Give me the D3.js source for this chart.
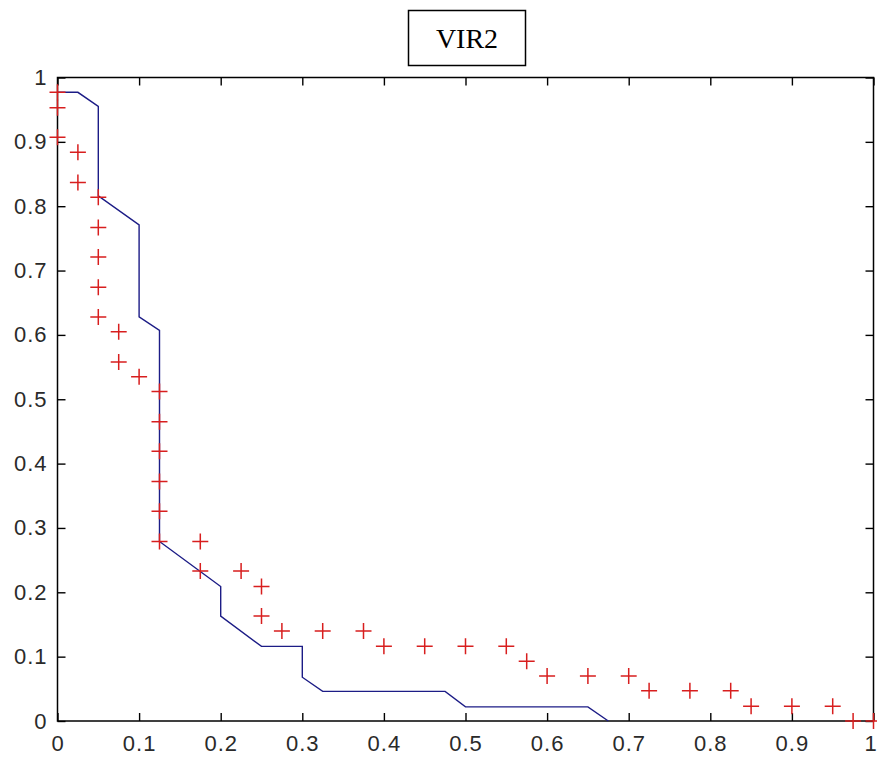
<!DOCTYPE html>
<meta charset="utf-8">
<body style="margin:0;background:white">
  <div id="content"></div>
</body>
<script src="https://cdn.jsdelivr.net/npm/d3@7"></script>
<script>
// chart values
var title = "VIR2";
var tickValues = [0, 0.1, 0.2, 0.3, 0.4, 0.5, 0.6, 0.7, 0.8, 0.9, 1];
var tickLabels = ["0", "0.1", "0.2", "0.3", "0.4", "0.5", "0.6", "0.7", "0.8", "0.9", "1"];

// blue curve vertices
var lineX = [0, 0.025, 0.05, 0.05, 0.1, 0.1, 0.125, 0.125, 0.2, 0.2, 0.25, 0.3, 0.3, 0.325, 0.475, 0.5, 0.65, 0.675];
var lineY = [0.977, 0.977, 0.955, 0.816, 0.771, 0.628, 0.607, 0.279, 0.209, 0.163, 0.116, 0.116, 0.068, 0.046, 0.046, 0.022, 0.022, 0];

// red "+" markers
var crossX = [0, 0, 0, 0.025, 0.025, 0.05, 0.05, 0.05, 0.05, 0.05, 0.075, 0.075, 0.1,
  0.125, 0.125, 0.125, 0.125, 0.125, 0.125, 0.175, 0.175, 0.225, 0.25, 0.25, 0.275,
  0.325, 0.375, 0.4, 0.45, 0.5, 0.55, 0.575, 0.6, 0.65, 0.7, 0.725, 0.775, 0.825,
  0.85, 0.9, 0.95, 0.975, 1];
var crossY = [0.977, 0.953, 0.907, 0.884, 0.837, 0.814, 0.767, 0.721, 0.674, 0.628, 0.605, 0.558, 0.535,
  0.512, 0.465, 0.419, 0.372, 0.326, 0.279, 0.279, 0.233, 0.233, 0.209, 0.163, 0.140,
  0.140, 0.140, 0.116, 0.116, 0.116, 0.116, 0.093, 0.070, 0.070, 0.070, 0.047, 0.047, 0.047,
  0.023, 0.023, 0.023, 0, 0];

var chart = { width: 877, height: 758 };
var plot = { left: 57.5, right: 873.5, top: 77.5, bottom: 721 };
var tick = 8;

var svg = d3.select('#content').append('svg')
    .attr('width', chart.width).attr('height', chart.height)
    .style('background', 'white').style('display', 'block');

var x = d3.scaleLinear().domain([0, 1]).range([plot.left, plot.right]);
var y = d3.scaleLinear().domain([0, 1]).range([plot.bottom, plot.top]);

function fmt(d) { return tickLabels[tickValues.indexOf(d)]; }

function styleAxis(g) {
  g.select('.domain').remove();
  g.selectAll('.tick line').attr('stroke', '#000').attr('stroke-width', 1.4);
  g.selectAll('.tick text')
    .attr('fill', '#2a2a2a')
    .style('font-family', '"Liberation Sans", Arial, sans-serif')
    .style('font-size', '22px')
    .style('letter-spacing', '1px');
}

// bottom axis with labels, ticks pointing inward
var xAxis = svg.append('g').attr('transform', 'translate(0,' + plot.bottom + ')')
  .call(d3.axisBottom(x).tickValues(tickValues).tickFormat(fmt).tickSizeInner(-tick).tickSizeOuter(0).tickPadding(11))
  .call(styleAxis);
xAxis.selectAll('.tick text').attr('dy', '0.85em');
// last label sits right at the window edge, nudge it in a bit
xAxis.selectAll('.tick text').filter(function (d) { return d === 1; }).attr('dx', -3);

// left axis with labels
svg.append('g').attr('transform', 'translate(' + plot.left + ',0)')
  .call(d3.axisLeft(y).tickValues(tickValues).tickFormat(fmt).tickSizeInner(-tick).tickSizeOuter(0).tickPadding(10))
  .call(styleAxis);

// top and right axes, ticks only
svg.append('g').attr('transform', 'translate(0,' + plot.top + ')')
  .call(d3.axisTop(x).tickValues(tickValues).tickFormat('').tickSizeInner(-tick).tickSizeOuter(0))
  .call(styleAxis);
svg.append('g').attr('transform', 'translate(' + plot.right + ',0)')
  .call(d3.axisRight(y).tickValues(tickValues).tickFormat('').tickSizeInner(-tick).tickSizeOuter(0))
  .call(styleAxis);

// axes box
svg.append('rect')
  .attr('x', plot.left).attr('y', plot.top)
  .attr('width', plot.right - plot.left).attr('height', plot.bottom - plot.top)
  .attr('fill', 'none').attr('stroke', '#000').attr('stroke-width', 1.5);

// blue curve
var linePts = lineX.map(function (d, i) { return [d, lineY[i]]; });
svg.append('path')
  .datum(linePts)
  .attr('fill', 'none')
  .attr('stroke', '#1c1c86')
  .attr('stroke-width', 1.4)
  .attr('d', d3.line().x(function (d) { return x(d[0]); }).y(function (d) { return y(d[1]); }));

// red crosses
var crossPts = crossX.map(function (d, i) { return [d, crossY[i]]; });
var s = 8;
svg.append('g').selectAll('path').data(crossPts).enter().append('path')
  .attr('fill', 'none')
  .attr('stroke', '#d81e1e')
  .attr('stroke-width', 1.5)
  .attr('d', function (d) {
    var cx = x(d[0]), cy = y(d[1]);
    return 'M' + (cx - s) + ',' + cy + 'H' + (cx + s) + 'M' + cx + ',' + (cy - s) + 'V' + (cy + s);
  });

// title box
var tb = { x: 408.5, y: 10.5, w: 117, h: 55 };
svg.append('rect')
  .attr('x', tb.x).attr('y', tb.y).attr('width', tb.w).attr('height', tb.h)
  .attr('fill', 'white').attr('stroke', '#000').attr('stroke-width', 1.5);
svg.append('text')
  .attr('x', tb.x + tb.w / 2).attr('y', 48)
  .attr('text-anchor', 'middle')
  .style('font-family', '"Liberation Serif", "Times New Roman", serif')
  .style('font-size', '28px')
  .text(title);
</script>
